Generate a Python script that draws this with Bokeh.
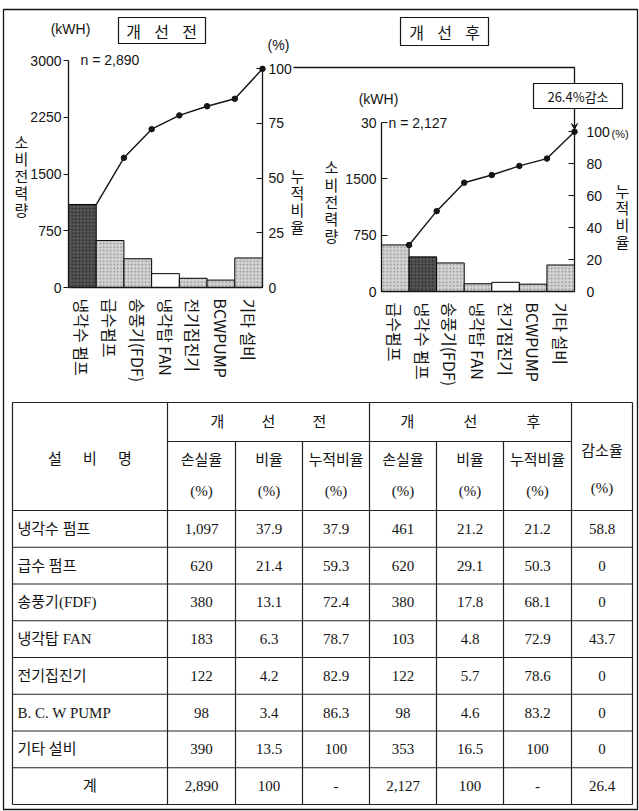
import math
from bokeh.plotting import figure
from bokeh.models import Range1d, LinearAxis, FixedTicker, Arrow, VeeHead, ColumnDataSource
from bokeh.embed import file_html
from bokeh.resources import INLINE
from bokeh.core.properties import value

# ---------------- data ----------------
before_labels = ["냉각수 펌프", "급수펌프", "송풍기(FDF)", "냉각탑 FAN", "전기집진기", "BCWPUMP", "기타 설비"]
before_kwh = [1097, 620, 380, 183, 122, 98, 390]
before_cum = [37.9, 59.3, 72.4, 78.7, 82.9, 86.3, 100]
before_total = 2890

after_labels = ["급수펌프", "냉각수 펌프", "송풍기(FDF)", "냉각탑 FAN", "전기집진기", "BCWPUMP", "기타 설비"]
after_kwh = [620, 461, 380, 103, 122, 98, 353]
after_cum = [29.1, 50.3, 68.1, 72.9, 78.6, 83.2, 100]
after_total = 2127

before_kwh_ticks = [0, 750, 1500, 2250, 3000]
before_pct_ticks = [0, 25, 50, 75, 100]
after_kwh_ticks = [0, 750, 1500, 2250]
after_kwh_tick_text = {2250: "30"}
after_pct_ticks = [0, 20, 40, 60, 80, 100]

table_names = ["냉각수 펌프", "급수 펌프", "송풍기(FDF)", "냉각탑 FAN", "전기집진기", "B. C. W PUMP", "기타 설비"]
t_before_loss = [1097, 620, 380, 183, 122, 98, 390]
t_before_ratio = [37.9, 21.4, 13.1, 6.3, 4.2, 3.4, 13.5]
t_before_cum = [37.9, 59.3, 72.4, 78.7, 82.9, 86.3, 100]
t_after_loss = [461, 620, 380, 103, 122, 98, 353]
t_after_ratio = [21.2, 29.1, 17.8, 4.8, 5.7, 4.6, 16.5]
t_after_cum = [21.2, 50.3, 68.1, 72.9, 78.6, 83.2, 100]
t_reduction = [58.8, 0, 0, 43.7, 0, 0, 0]
t_total_row = ["계", "2,890", "100", "-", "2,127", "100", "-", "26.4"]

before_fill = ["dark", "light", "light", "white", "light", "light", "light"]
after_fill = ["light", "dark", "light", "light", "white", "light", "light"]

# ---------------- styles ----------------
KR = "Noto Sans CJK KR"
NUM = "Liberation Sans"
SERIF = "Liberation Serif, Noto Sans CJK KR"
INK = "#141414"
FILL = {"dark": "#555555", "light": "#d4d4d4", "white": "#ffffff"}
HATCH = {"dark": "#1e1e1e", "light": "#8a8a8a", "white": "#ffffff"}
PAT = {"dark": "dot", "light": "dot", "white": " "}

W, H = 639, 811
p = figure(width=W, height=H, x_range=Range1d(0, W), y_range=Range1d(H, 0),
           min_border=0, x_axis_type=None, y_axis_type=None,
           toolbar_location=None, output_backend="svg")
p.grid.visible = False
p.outline_line_color = None
p.background_fill_color = "white"
p.border_fill_color = "white"

xranges, yranges = {}, {}


def txt(xs, ys, ss, size="14px", font=NUM, align="center", baseline="middle"):
    p.text(xs, ys, ss, text_font=value(font), text_font_size=value(size),
           text_align=align, text_baseline=baseline, text_color=INK)


def add_chart(key, labels, kwh, cum, fills, total, kticks, pticks, L, R, B, kref, kref_px,
              ktext=None, left_in=False, right_standoff=6, first_dot=False):
    n = len(kwh)
    s = (R - L) / n                 # px per category
    k = (B - kref_px) / kref        # px per kWh
    xr, kr, pr = key + "x", key + "k", key + "p"
    xranges[xr] = Range1d(-L / s, (W - L) / s)
    yranges[kr] = Range1d((B - H) / k, B / k)
    yranges[pr] = Range1d((B - H) / k * 100.0 / total, B / k * 100.0 / total)
    p.extra_x_ranges = dict(xranges)
    p.extra_y_ranges = dict(yranges)

    la = LinearAxis(x_range_name=xr, y_range_name=kr, fixed_location=0,
                    ticker=FixedTicker(ticks=kticks), bounds=(0, kticks[-1]))
    if left_in:
        la.major_tick_in, la.major_tick_out, la.major_label_standoff = 6, 0, 5
    else:
        la.major_tick_in, la.major_tick_out, la.major_label_standoff = 0, 5, 2
    if ktext:
        la.major_label_overrides = ktext
    ra = LinearAxis(x_range_name=xr, y_range_name=pr, fixed_location=n,
                    ticker=FixedTicker(ticks=pticks), bounds=(0, 100))
    ra.major_tick_in, ra.major_tick_out, ra.major_label_standoff = 6, 0, right_standoff
    centers = [i + 0.5 for i in range(n)]
    ba = LinearAxis(x_range_name=xr, y_range_name=kr, fixed_location=0,
                    ticker=FixedTicker(ticks=centers), bounds=(0, n))
    ba.major_label_overrides = {c: lab for c, lab in zip(centers, labels)}
    ba.major_label_orientation = -math.pi / 2
    ba.major_tick_line_color = None
    ba.major_label_standoff = 5
    ba.major_label_text_font = KR
    ba.major_label_text_font_size = "16px"
    for a in (la, ra):
        a.major_label_text_font = NUM
        a.major_label_text_font_size = "14px"
    for a in (la, ra, ba):
        a.minor_tick_line_color = None
        a.axis_line_width = 1.3
        a.axis_line_color = INK
        a.major_tick_line_color = INK if a is not ba else None
        a.major_tick_line_width = 1.2
        a.major_label_text_color = INK
    p.add_layout(la, "left")
    p.add_layout(ra, "right")
    p.add_layout(ba, "below")

    src = ColumnDataSource(dict(
        x=centers, top=kwh,
        fill=[FILL[f] for f in fills], hatch=[HATCH[f] for f in fills],
        pat=[PAT[f] for f in fills]))
    p.vbar(x="x", top="top", bottom=0, width=1.0, source=src,
           x_range_name=xr, y_range_name=kr,
           fill_color="fill", hatch_color="hatch", hatch_pattern="pat",
           hatch_scale=3.5, hatch_weight=1.2, line_color="black", line_width=1)
    edges = [i + 1 for i in range(n)]
    p.line(edges, cum, x_range_name=xr, y_range_name=pr, line_color=INK, line_width=1.4)
    st = 0 if first_dot else 1
    p.scatter(edges[st:], cum[st:], x_range_name=xr, y_range_name=pr,
              size=5.5, fill_color=INK, line_color=INK)


def box(x0, y0, x1, y1, lw=1.2):
    p.quad(left=x0, right=x1, top=y0, bottom=y1, fill_color="white", line_color=INK, line_width=lw)


# outer frame
box(3, 9, 637, 809, lw=1.3)

# ---------------- before chart ----------------
add_chart("b", before_labels, before_kwh, before_cum, before_fill, before_total,
          before_kwh_ticks, before_pct_ticks, L=68, R=262, B=287, kref=3000, kref_px=60)
box(118, 17, 205, 43)
txt([133, 161, 189], [30, 30, 30], list("개선전"), size="16px", font=KR)
txt([70], [28], ["(kWH)"], size="14px")
txt([80], [59], ["n = 2,890"], size="14px", align="left")
txt([278], [44], ["(%)"], size="14px")
txt([21] * 5, [141, 158, 175, 192, 209], list("소비전력량"), size="15px", font=KR)
txt([297] * 4, [175, 192, 209, 226], list("누적비율"), size="15px", font=KR)

# ---------------- after chart ----------------
add_chart("a", after_labels, after_kwh, after_cum, after_fill, after_total,
          after_kwh_ticks, after_pct_ticks, L=381, R=574, B=291, kref=2250, kref_px=122,
          ktext=after_kwh_tick_text, left_in=True, right_standoff=12, first_dot=True)
box(400, 17, 488, 45)
txt([416, 444, 472], [31, 31, 31], list("개선후"), size="16px", font=KR)
txt([378], [98], ["(kWH)"], size="14px")
txt([388], [122], ["n = 2,127"], size="14px", align="left")
txt([611], [133], ["(%)"], size="11px", align="left")
txt([331] * 5, [166, 184, 201, 218, 235], list("소비전력량"), size="15px", font=KR)
txt([622] * 4, [190, 207, 224, 241], list("누적비율"), size="15px", font=KR)

# connector: before 100% -> after 100%
p.line([293, 574, 574], [67, 67, 83], line_color=INK, line_width=1.3)
box(533, 83, 622, 108)
txt([577.5], [95.5], ["26.4%감소"], size="13px", font=KR)
p.add_layout(Arrow(x_start=574, y_start=108, x_end=574, y_end=129,
                   end=VeeHead(size=6, line_color=INK, fill_color=INK, line_width=1),
                   line_color=INK, line_width=1.3))

# ---------------- table ----------------
col_edges = [12, 167, 235, 302, 369, 436, 503, 571, 632]
hdr_top, hdr_mid, hdr_bot, tab_bot = 402, 441, 510, 804
n_rows = len(table_names) + 1
row_h = (tab_bot - hdr_bot) / n_rows
row_edges = [hdr_bot + i * row_h for i in range(n_rows + 1)]

x0s, y0s, x1s, y1s = [], [], [], []
for j, xe in enumerate(col_edges):
    ys = hdr_top if j in (0, 1, 4, 7, 8) else hdr_mid
    x0s.append(xe); y0s.append(ys); x1s.append(xe); y1s.append(tab_bot)
for ye in [hdr_top] + row_edges:
    x0s.append(col_edges[0]); y0s.append(ye); x1s.append(col_edges[-1]); y1s.append(ye)
x0s.append(col_edges[1]); y0s.append(hdr_mid); x1s.append(col_edges[7]); y1s.append(hdr_mid)
p.segment(x0s, y0s, x1s, y1s, line_color="#222222", line_width=1.2)

cc = [(col_edges[k] + col_edges[k + 1]) / 2 for k in range(len(col_edges) - 1)]


def fmt_ratio(v):
    if v == 0:
        return "0"
    if v == 100:
        return "100"
    return f"{v:.1f}"


hx, hy, ht = [], [], []
for k, ch in enumerate("설비명"):
    hx.append(cc[0] + (k - 1) * 35); hy.append(458); ht.append(ch)
for k, ch in enumerate("개선전"):
    hx.append((col_edges[1] + col_edges[4]) / 2 + (k - 1) * 51); hy.append(421); ht.append(ch)
for k, ch in enumerate("개선후"):
    hx.append((col_edges[4] + col_edges[7]) / 2 + (k - 1) * 63); hy.append(421); ht.append(ch)
for k, s in enumerate(["손실율", "비율", "누적비율"] * 2):
    hx.append(cc[k + 1]); hy.append(459); ht.append(s)
    hx.append(cc[k + 1]); hy.append(490); ht.append("(%)")
hx.append(cc[7]); hy.append(450); ht.append("감소율")
hx.append(cc[7]); hy.append(487); ht.append("(%)")
txt(hx, hy, ht, size="15px", font=SERIF)

centers_y = [hdr_bot + (i + 0.5) * row_h for i in range(n_rows)]
txt([17] * len(table_names), centers_y[:-1], table_names, size="15px", font=SERIF, align="left")

vx, vy, vt = [], [], []
for i in range(len(table_names)):
    cells = [f"{t_before_loss[i]:,}", fmt_ratio(t_before_ratio[i]), fmt_ratio(t_before_cum[i]),
             f"{t_after_loss[i]:,}", fmt_ratio(t_after_ratio[i]), fmt_ratio(t_after_cum[i]),
             fmt_ratio(t_reduction[i])]
    for k, s in enumerate(cells):
        vx.append(cc[k + 1]); vy.append(centers_y[i]); vt.append(s)
for k, s in enumerate(t_total_row):
    vx.append(cc[k]); vy.append(centers_y[-1]); vt.append(s)
txt(vx, vy, vt, size="15px", font=SERIF)

open("out.html", "w").write(file_html(p, INLINE))
